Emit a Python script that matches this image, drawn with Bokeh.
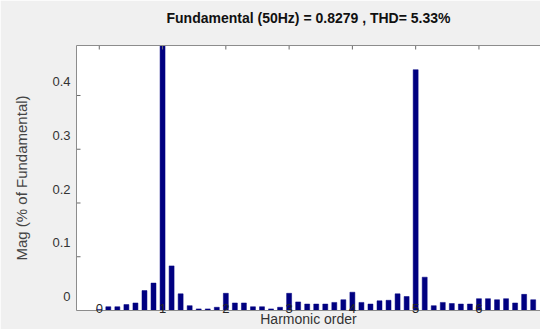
import math
from bokeh.plotting import figure
from bokeh.models import FixedTicker, LinearAxis, Range1d, ColumnDataSource
from bokeh.embed import file_html
from bokeh.resources import INLINE

# ---- data ----
harmonic_index = list(range(49))
magnitude = [0.002, 0.007, 0.007, 0.011, 0.014, 0.037, 0.051, 1.0, 0.083, 0.031,
             0.009, 0.003, 0.003, 0.006, 0.032, 0.014, 0.014, 0.007, 0.007, 0.003,
             0.006, 0.032, 0.016, 0.012, 0.012, 0.012, 0.015, 0.020, 0.034, 0.015,
             0.012, 0.018, 0.019, 0.031, 0.026, 0.448, 0.062, 0.009, 0.015, 0.013,
             0.012, 0.012, 0.022, 0.022, 0.020, 0.022, 0.014, 0.030, 0.020]
x_tick_positions = [0, 7, 14, 21, 28, 35, 42, 49]
x_tick_labels = ["0", "1", "2", "3", "4", "5", "6", "7"]
y_tick_values = [0, 0.1, 0.2, 0.3, 0.4]
y_tick_labels = ["0", "0.1", "0.2", "0.3", "0.4"]
title_text = "Fundamental (50Hz) = 0.8279 , THD= 5.33%"
x_label = "Harmonic order"
y_label = "Mag (% of Fundamental)"

X_START, X_END = -2.52, 48.81
Y_START, Y_END = 0.0, 0.493
LABEL_SHIFT = 0.026   # tick labels sit ~14px above their ticks in the reference

FONT = "Liberation Sans"
AXIS_COLOR = "#8c8c8c"
TICK_COLOR = "#6a6a6a"
TEXT_COLOR = "#333333"

p = figure(width=540, height=329, output_backend="svg", toolbar_location=None,
           title_location=None,
           x_range=Range1d(X_START, X_END), y_range=Range1d(Y_START, Y_END),
           y_axis_location=None,
           min_border_left=76, min_border_right=0, min_border_top=45, min_border_bottom=19,
           background_fill_color="white", border_fill_color="#f0f0f0")
p.outline_line_color = None
p.grid.visible = False
p.extra_y_ranges = {"ylab": Range1d(Y_START - LABEL_SHIFT, Y_END - LABEL_SHIFT)}

src = ColumnDataSource(dict(k=harmonic_index, mag=magnitude))
p.vbar(x="k", top="mag", width=0.55, bottom=0, source=src,
       fill_color="#000080", line_color="#000080", line_width=0.5, level="underlay")

# bottom axis: line, tick labels overlapping the baseline, title
xa = p.xaxis[0]
xa.ticker = FixedTicker(ticks=x_tick_positions)
xa.major_label_overrides = {t: l for t, l in zip(x_tick_positions, x_tick_labels)}
xa.major_tick_in = 0
xa.major_tick_out = 0
xa.major_tick_line_color = None
xa.minor_tick_line_color = None
xa.axis_line_color = AXIS_COLOR
xa.major_label_standoff = -7
xa.major_label_text_font = FONT
xa.major_label_text_font_size = "13px"
xa.major_label_text_color = "#262626"
xa.axis_label = x_label
xa.axis_label_text_font = FONT
xa.axis_label_text_font_size = "14px"
xa.axis_label_text_font_style = "normal"
xa.axis_label_text_color = TEXT_COLOR
xa.axis_label_standoff = -5

# top edge of the box, carrying the chart title
ta = LinearAxis(ticker=FixedTicker(ticks=[]), major_tick_in=0, major_tick_out=0,
                minor_tick_line_color=None, major_tick_line_color=None,
                axis_line_color=AXIS_COLOR, major_label_standoff=0,
                axis_label=title_text, axis_label_text_font=FONT,
                axis_label_text_font_size="14px", axis_label_text_font_style="bold",
                axis_label_text_color="#111111", axis_label_standoff=20)
p.add_layout(ta, "above")

# left axis: line, tick labels (on the shifted range), title
ya = LinearAxis(y_range_name="ylab", ticker=FixedTicker(ticks=y_tick_values),
                major_label_overrides={v: l for v, l in zip(y_tick_values, y_tick_labels)},
                major_tick_in=0, major_tick_out=0, major_tick_line_color=None,
                minor_tick_line_color=None, axis_line_color=AXIS_COLOR,
                major_label_standoff=6, major_label_text_font=FONT,
                major_label_text_font_size="13px", major_label_text_color=TEXT_COLOR,
                axis_label=y_label, axis_label_text_font=FONT,
                axis_label_text_font_size="15px", axis_label_text_font_style="normal",
                axis_label_text_color="#444444", axis_label_standoff=19)
p.add_layout(ya, "left")

# inward tick marks on the box edges
p.ray(x=[X_START] * len(y_tick_values), y=y_tick_values, length=4, length_units="screen",
      angle=0, line_color=TICK_COLOR, line_width=1)
p.ray(x=x_tick_positions, y=[Y_END] * len(x_tick_positions), length=4, length_units="screen",
      angle=-math.pi / 2, line_color=TICK_COLOR, line_width=1)

open("out.html", "w").write(file_html(p, INLINE))
